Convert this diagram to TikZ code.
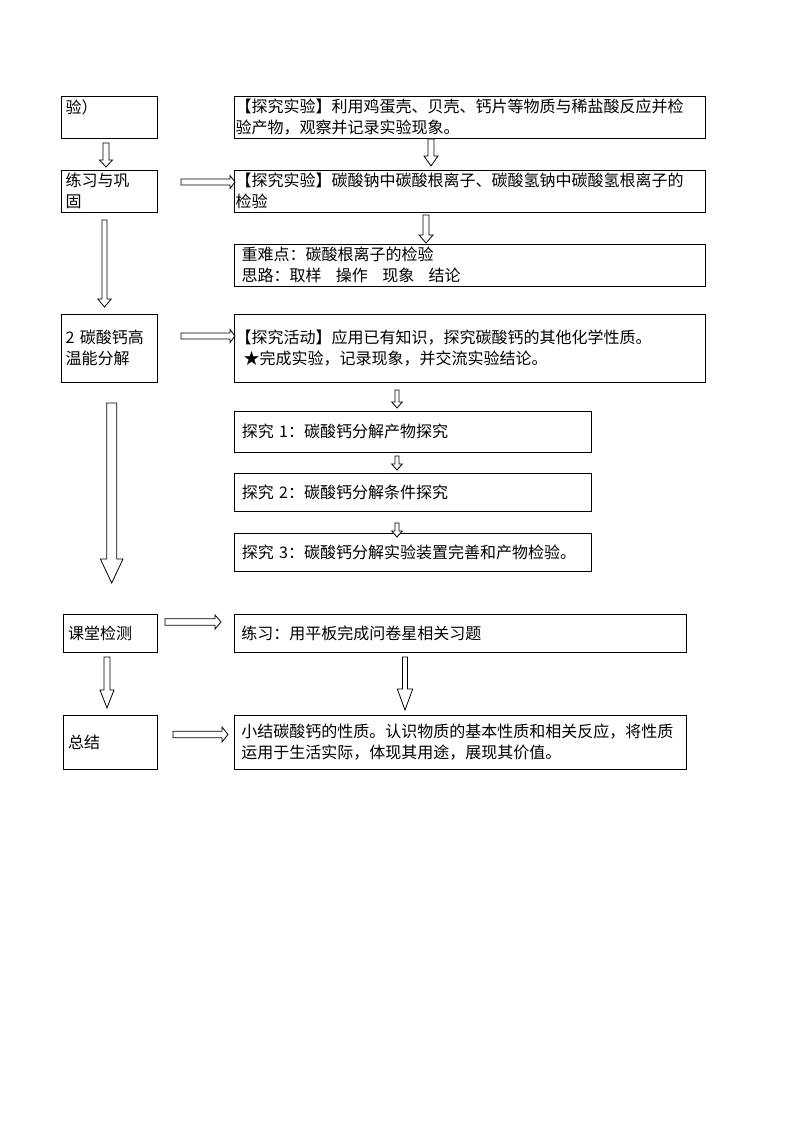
\documentclass[tikz,border=0pt]{standalone}
\usepackage{fontspec}
\setmainfont{Noto Sans CJK SC}
\begin{document}
\begin{tikzpicture}[x=0.75pt,y=-0.75pt,
  box/.style={draw, line width=0.6pt, rectangle, anchor=north west, align=left,
    inner ysep=0pt, outer sep=0pt, font=\fontsize{12pt}{15.6pt}\selectfont},
  barrow/.style={draw, line width=0.6pt, fill=white, line join=miter}]
\fill[white] (0,0) rectangle (794,1123);
\useasboundingbox (0,0) rectangle (794,1123);
% #1 name, #2 x1, #3 y1, #4 width(pt), #5 height(pt), #6 xsep(pt), #7 text width(pt), #8 text
\newcommand\mybox[8]{\node[box, inner xsep=#6pt, minimum width=#4pt, minimum height=#5pt, text width=#7pt] (#1) at (#2,#3) {#8};}
% down arrow: cx, ytop, ytip, shaft half, head half, head length
\newcommand\dnarrow[6]{\draw[barrow] ({#1-#4},#2) -- ({#1+#4},#2) -- ({#1+#4},{#3-#6}) -- ({#1+#5},{#3-#6}) -- (#1,#3) -- ({#1-#5},{#3-#6}) -- ({#1-#4},{#3-#6}) -- cycle;}
% right arrow: cy, xleft, xtip, shaft half, head half, head length
\newcommand\rtarrow[6]{\draw[barrow] (#2,{#1-#4}) -- (#2,{#1+#4}) -- ({#3-#6},{#1+#4}) -- ({#3-#6},{#1+#5}) -- (#3,#1) -- ({#3-#6},{#1-#5}) -- ({#3-#6},{#1-#4}) -- cycle;}

% left column
\mybox{L1}{61}{96}{72}{31.5}{3}{65}{验）\\\mbox{}}
\mybox{L2}{61}{170}{72}{31.5}{3}{65}{练习与巩\\固}
\mybox{L3}{61}{314}{72}{51}{3}{65}{2 碳酸钙高\\温能分解}
\mybox{L4}{63}{614}{70.5}{28.5}{3}{63}{课堂检测}
\mybox{L5}{63}{715}{70.5}{40.5}{3}{63}{总结}

% right column
\mybox{R1}{234}{96}{353.25}{31.5}{0.5}{351}{【探究实验】利用鸡蛋壳、贝壳、钙片等物质与稀盐酸反应并检\\验产物，观察并记录实验现象。}
\mybox{R2}{234}{170}{353.25}{31.5}{0.5}{351}{【探究实验】碳酸钠中碳酸根离子、碳酸氢钠中碳酸氢根离子的\\检验}
\mybox{R3}{234}{244}{353.25}{31.5}{5}{342}{重难点：碳酸根离子的检验\\思路：取样\hspace{0.9em}操作\hspace{0.9em}现象\hspace{0.9em}结论}
\mybox{R4}{234}{314}{353.25}{51}{0.5}{351}{【探究活动】应用已有知识，探究碳酸钙的其他化学性质。\\\hspace*{0.5em}★完成实验，记录现象，并交流实验结论。}
\mybox{R5}{234}{411}{267.75}{30.75}{5}{256}{探究 1：碳酸钙分解产物探究}
\mybox{R6}{234}{473}{267.75}{28.5}{5}{256}{探究 2：碳酸钙分解条件探究}
\mybox{R7}{234}{533}{267.75}{28.5}{5}{256}{探究 3：碳酸钙分解实验装置完善和产物检验。}
\mybox{R8}{234}{614}{339}{28.5}{5}{328}{练习：用平板完成问卷星相关习题}
\mybox{R9}{234}{715}{339}{40.5}{5}{328}{小结碳酸钙的性质。认识物质的基本性质和相关反应，将性质\\运用于生活实际，体现其用途，展现其价值。}

% arrows
\dnarrow{106}{143}{167}{3}{6.5}{7}
\dnarrow{431}{139}{166}{3}{7}{10}
\rtarrow{182}{181}{235}{3}{6.5}{5}
\dnarrow{104.5}{220}{307}{2.5}{6.7}{8}
\dnarrow{426}{215}{243}{3}{7}{8}
\rtarrow{336}{181}{235}{3}{6.5}{5}
\dnarrow{397}{390}{408}{2}{5.3}{6}
\dnarrow{397}{456}{470}{2}{5.3}{6}
\dnarrow{397}{523}{537}{2}{5.3}{6}
\dnarrow{111.7}{403}{583}{5}{11.3}{24}
\rtarrow{622}{165}{221}{3.3}{7}{6}
\dnarrow{107}{657}{708}{3}{7}{18}
\dnarrow{405}{657}{710}{2.5}{7.7}{21}
\rtarrow{734.5}{173}{228}{3.3}{7.5}{6}
\end{tikzpicture}
\end{document}
